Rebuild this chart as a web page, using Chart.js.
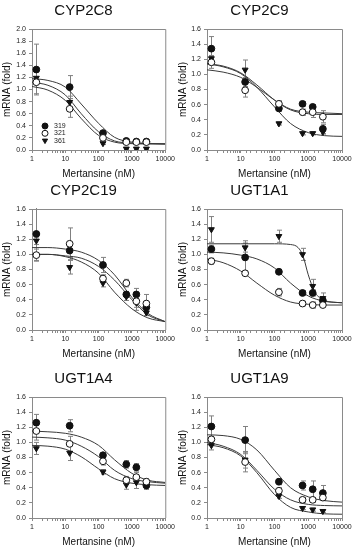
<!DOCTYPE html>
<html><head><meta charset="utf-8">
<script src="https://cdn.jsdelivr.net/npm/chart.js@4/dist/chart.umd.min.js"></script>
<style>
html,body{margin:0;padding:0;background:#fff;width:355px;height:550px;overflow:hidden}
.p{position:absolute}
</style></head><body>
<div id="wrap"></div>
<script>
// ---------- data ----------
const doses = [1.35, 13.5, 135, 677, 1355, 2710];           // nM
const fitDoses = [1, 3, 10, 30, 100, 300, 1000, 3000, 10000];
const fitDosesDense = [1, 10, 100, 300, 500, 700, 1000, 1500, 2000, 3000, 5000, 10000];
const seriesNames = ['319', '321', '361'];
const panelTitles = ['CYP2C8', 'CYP2C9', 'CYP2C19', 'UGT1A1', 'UGT1A4', 'UGT1A9'];
const yMaxes = [2.0, 1.6, 1.6, 1.6, 1.6, 1.6];
const xTickLabels = [1, 10, 100, 1000, 10000];

// CYP2C8
const cyp2c8_319 = [1.33, 1.04, 0.28, 0.15, 0.14, 0.14];
const cyp2c8_321 = [1.12, 0.68, 0.20, 0.13, 0.13, 0.13];
const cyp2c8_361 = [1.19, 0.79, 0.11, 0.02, 0.02, 0.02];
const cyp2c8_319_sd = [0.42, 0.19, 0.04, 0.02, 0.02, 0.02];
const cyp2c8_321_sd = [0.19, 0.14, 0.03, 0.02, 0.02, 0.02];
const cyp2c8_361_sd = [0.10, 0.10, 0.02, 0.01, 0.01, 0.01];
const cyp2c8_319_fit = [1.18, 1.15, 1.04, 0.76, 0.44, 0.21, 0.13, 0.11, 0.10];
const cyp2c8_321_fit = [1.12, 1.07, 0.91, 0.60, 0.30, 0.15, 0.115, 0.105, 0.10];
const cyp2c8_361_fit = [1.05, 0.99, 0.82, 0.52, 0.24, 0.13, 0.105, 0.10, 0.10];

// CYP2C9
const cyp2c9_319 = [1.34, 0.90, 0.55, 0.61, 0.57, 0.28];
const cyp2c9_321 = [1.16, 0.79, 0.61, 0.50, 0.50, 0.44];
const cyp2c9_361 = [1.21, 1.06, 0.35, 0.22, 0.22, 0.24];
const cyp2c9_319_sd = [0.16, 0.06, 0.04, 0.03, 0.03, 0.06];
const cyp2c9_321_sd = [0.08, 0.09, 0.04, 0.04, 0.07, 0.08];
const cyp2c9_361_sd = [0.04, 0.13, 0.02, 0.02, 0.02, 0.03];
const cyp2c9_319_fit = [1.14, 1.11, 1.02, 0.86, 0.66, 0.53, 0.48, 0.47, 0.47];
const cyp2c9_321_fit = [1.06, 1.03, 0.96, 0.83, 0.66, 0.54, 0.50, 0.49, 0.48];
const cyp2c9_361_fit = [1.14, 1.10, 1.01, 0.83, 0.57, 0.35, 0.23, 0.19, 0.18];

// CYP2C19
const cyp2c19_319 = [1.27, 1.05, 0.86, 0.47, 0.47, 0.30];
const cyp2c19_321 = [0.99, 1.14, 0.68, 0.62, 0.38, 0.35];
const cyp2c19_361 = [1.18, 0.83, 0.62, 0.44, 0.36, 0.23];
const cyp2c19_319_sd = [0.35, 0.09, 0.10, 0.04, 0.08, 0.07];
const cyp2c19_321_sd = [0.08, 0.21, 0.05, 0.05, 0.08, 0.12];
const cyp2c19_361_sd = [0.05, 0.09, 0.05, 0.05, 0.10, 0.04];
const cyp2c19_319_fit = [1.00, 1.00, 0.98, 0.95, 0.84, 0.66, 0.40, 0.20, 0.11];
const cyp2c19_321_fit = [1.09, 1.09, 1.07, 1.03, 0.92, 0.73, 0.43, 0.22, 0.11];
const cyp2c19_361_fit = [1.00, 1.00, 0.97, 0.90, 0.75, 0.50, 0.28, 0.16, 0.11];

// UGT1A1
const ugt1a1_319 = [1.07, 0.96, 0.77, 0.49, 0.49, 0.39];
const ugt1a1_321 = [0.91, 0.75, 0.50, 0.35, 0.33, 0.33];
const ugt1a1_361 = [1.33, 1.09, 1.24, 1.00, 0.58, 0.42];
const ugt1a1_319_sd = [0.05, 0.22, 0.03, 0.03, 0.04, 0.03];
const ugt1a1_321_sd = [0.04, 0.03, 0.05, 0.03, 0.04, 0.02];
const ugt1a1_361_sd = [0.17, 0.06, 0.08, 0.08, 0.09, 0.07];
const ugt1a1_319_fit = [1.03, 1.02, 0.99, 0.94, 0.82, 0.62, 0.45, 0.38, 0.36];
const ugt1a1_321_fit = [0.94, 0.89, 0.78, 0.62, 0.46, 0.37, 0.34, 0.33, 0.33];
const ugt1a1_361_fit = [1.14, 1.14, 1.14, 1.13, 1.09, 0.98, 0.73, 0.52, 0.44, 0.39, 0.37, 0.36]; // on fitDosesDense

// UGT1A4
const ugt1a4_319 = [1.26, 1.22, 0.83, 0.71, 0.67, 0.43];
const ugt1a4_321 = [1.15, 0.98, 0.75, 0.50, 0.54, 0.48];
const ugt1a4_361 = [0.92, 0.86, 0.61, 0.44, 0.47, 0.43];
const ugt1a4_319_sd = [0.11, 0.08, 0.03, 0.05, 0.05, 0.05];
const ugt1a4_321_sd = [0.12, 0.10, 0.05, 0.05, 0.06, 0.04];
const ugt1a4_361_sd = [0.08, 0.10, 0.03, 0.06, 0.08, 0.05];
const ugt1a4_319_fit = [1.15, 1.14, 1.12, 1.07, 0.96, 0.77, 0.59, 0.50, 0.47];
const ugt1a4_321_fit = [1.07, 1.06, 1.03, 0.95, 0.81, 0.63, 0.52, 0.48, 0.46];
const ugt1a4_361_fit = [0.96, 0.95, 0.91, 0.81, 0.65, 0.52, 0.46, 0.44, 0.43];

// UGT1A9
const ugt1a9_319 = [1.21, 1.03, 0.48, 0.43, 0.38, 0.33];
const ugt1a9_321 = [1.04, 0.74, 0.36, 0.24, 0.24, 0.27];
const ugt1a9_361 = [0.96, 0.77, 0.29, 0.13, 0.11, 0.09];
const ugt1a9_319_sd = [0.14, 0.18, 0.04, 0.06, 0.11, 0.10];
const ugt1a9_321_sd = [0.04, 0.13, 0.04, 0.03, 0.03, 0.03];
const ugt1a9_361_sd = [0.06, 0.11, 0.03, 0.02, 0.02, 0.02];
const ugt1a9_319_fit = [1.10, 1.09, 1.04, 0.90, 0.63, 0.40, 0.28, 0.23, 0.21];
const ugt1a9_321_fit = [1.00, 0.95, 0.84, 0.63, 0.38, 0.24, 0.18, 0.165, 0.16];
const ugt1a9_361_fit = [0.97, 0.93, 0.82, 0.60, 0.31, 0.14, 0.08, 0.055, 0.05];

// ---------- assemble ----------
const panelData = [
  {means:[cyp2c8_319,cyp2c8_321,cyp2c8_361], sds:[cyp2c8_319_sd,cyp2c8_321_sd,cyp2c8_361_sd], fits:[cyp2c8_319_fit,cyp2c8_321_fit,cyp2c8_361_fit], fitX:[fitDoses,fitDoses,fitDoses]},
  {means:[cyp2c9_319,cyp2c9_321,cyp2c9_361], sds:[cyp2c9_319_sd,cyp2c9_321_sd,cyp2c9_361_sd], fits:[cyp2c9_319_fit,cyp2c9_321_fit,cyp2c9_361_fit], fitX:[fitDoses,fitDoses,fitDoses]},
  {means:[cyp2c19_319,cyp2c19_321,cyp2c19_361], sds:[cyp2c19_319_sd,cyp2c19_321_sd,cyp2c19_361_sd], fits:[cyp2c19_319_fit,cyp2c19_321_fit,cyp2c19_361_fit], fitX:[fitDoses,fitDoses,fitDoses]},
  {means:[ugt1a1_319,ugt1a1_321,ugt1a1_361], sds:[ugt1a1_319_sd,ugt1a1_321_sd,ugt1a1_361_sd], fits:[ugt1a1_319_fit,ugt1a1_321_fit,ugt1a1_361_fit], fitX:[fitDoses,fitDoses,fitDosesDense]},
  {means:[ugt1a4_319,ugt1a4_321,ugt1a4_361], sds:[ugt1a4_319_sd,ugt1a4_321_sd,ugt1a4_361_sd], fits:[ugt1a4_319_fit,ugt1a4_321_fit,ugt1a4_361_fit], fitX:[fitDoses,fitDoses,fitDoses]},
  {means:[ugt1a9_319,ugt1a9_321,ugt1a9_361], sds:[ugt1a9_319_sd,ugt1a9_321_sd,ugt1a9_361_sd], fits:[ugt1a9_319_fit,ugt1a9_321_fit,ugt1a9_361_fit], fitX:[fitDoses,fitDoses,fitDoses]}
];

// layout (positions / styles kept separate from data)
const FONT = '"Liberation Sans", Arial, sans-serif';
const boxes = [
  {left:0,   top:0,   w:177, h:182, yW:32, padR:10, yTitlePad:1},
  {left:177, top:0,   w:178, h:182, yW:30, padR:13, yTitlePad:0},
  {left:0,   top:180, w:177, h:182, yW:32, padR:10, yTitlePad:1},
  {left:177, top:180, w:178, h:182, yW:30, padR:13, yTitlePad:0},
  {left:0,   top:368, w:177, h:182, yW:32, padR:10, yTitlePad:1},
  {left:177, top:368, w:178, h:182, yW:30, padR:13, yTitlePad:0}
];
const styles = [
  {pointStyle:'circle',   rotation:0,   bg:'#111', border:'#111'},
  {pointStyle:'circle',   rotation:0,   bg:'#fff', border:'#111'},
  {pointStyle:'triangle', rotation:180, bg:'#111', border:'#111'}
];
const drawOrder = [1, 0, 2]; // lower = on top

const errorBars = {
  id: 'errorBars',
  beforeDatasetsDraw(chart) {
    const {ctx, chartArea: a, scales: {x, y}} = chart;
    ctx.save();
    ctx.beginPath(); ctx.rect(a.left, a.top - 1, a.width, a.height + 2); ctx.clip();
    ctx.strokeStyle = '#808080'; ctx.lineWidth = 1;
    chart.data.datasets.forEach(ds => {
      if (!ds.errors) return;
      ds.data.forEach((p, i) => {
        const e = ds.errors[i];
        const px = Math.round(x.getPixelForValue(p.x)) + 0.5;
        const yt = y.getPixelForValue(p.y + e), yb = y.getPixelForValue(p.y - e);
        ctx.beginPath();
        ctx.moveTo(px, yt); ctx.lineTo(px, yb);
        ctx.moveTo(px - 2.5, yt); ctx.lineTo(px + 2.5, yt);
        ctx.moveTo(px - 2.5, yb); ctx.lineTo(px + 2.5, yb);
        ctx.stroke();
      });
    });
    ctx.restore();
  }
};
const frame = {
  id: 'frame',
  afterDraw(chart) {
    const {ctx, chartArea: a} = chart;
    ctx.save();
    ctx.strokeStyle = '#8a8a8a'; ctx.lineWidth = 1;
    ctx.beginPath();
    ctx.moveTo(a.left, a.top + 0.5); ctx.lineTo(a.right + 0.5, a.top + 0.5); ctx.lineTo(a.right + 0.5, a.bottom);
    ctx.stroke();
    ctx.restore();
  }
};
const inLegend = {
  id: 'inLegend',
  afterDatasetsDraw(chart, args, opts) {
    if (!opts.show) return;
    const {ctx, chartArea: a} = chart;
    ctx.save();
    chart.data.datasets.forEach(ds => {
      if (ds.legendRow === undefined) return;
      const yy = a.bottom - 24 + ds.legendRow * 7.3;
      ctx.fillStyle = ds.backgroundColor; ctx.strokeStyle = ds.borderColor; ctx.lineWidth = 1;
      Chart.helpers.drawPoint(ctx, {pointStyle: ds.pointStyle, rotation: ds.pointRotation, radius: 3, borderWidth: 1}, a.left + 13, yy);
      ctx.fillStyle = '#222';
      ctx.font = '7px ' + FONT; ctx.textBaseline = 'middle'; ctx.textAlign = 'left';
      ctx.fillText(ds.label, a.left + 22, yy);
    });
    ctx.restore();
  }
};

const wrap = document.getElementById('wrap');
panelTitles.forEach((title, k) => {
  const b = boxes[k], d = panelData[k];
  const div = document.createElement('div');
  div.className = 'p';
  div.style.cssText = `left:${b.left}px;top:${b.top}px;width:${b.w}px;height:${b.h}px`;
  const cv = document.createElement('canvas');
  div.appendChild(cv); wrap.appendChild(div);

  const datasets = [];
  seriesNames.forEach((name, s) => {
    const st = styles[s];
    datasets.push({
      label: name,
      data: doses.map((x, i) => ({x, y: d.means[s][i]})),
      errors: d.sds[s],
      legendRow: s,
      showLine: false,
      pointStyle: st.pointStyle, pointRotation: st.rotation,
      pointRadius: 3.4, pointHoverRadius: 3.4, pointBorderWidth: 1,
      backgroundColor: st.bg, borderColor: st.border,
      order: drawOrder[s]
    });
  });
  seriesNames.forEach((name, s) => {
    datasets.push({
      label: name + ' fit',
      data: d.fitX[s].map((x, i) => ({x, y: d.fits[s][i]})),
      showLine: true, pointRadius: 0, pointHoverRadius: 0,
      borderColor: '#3a3a3a', borderWidth: 1, backgroundColor: 'transparent',
      cubicInterpolationMode: 'monotone',
      order: 10
    });
  });

  new Chart(cv, {
    type: 'scatter',
    data: {datasets},
    plugins: [errorBars, frame, inLegend],
    options: {
      responsive: true, maintainAspectRatio: false, animation: false,
      layout: {padding: {left: 0, right: b.padR, top: 0, bottom: 0}},
      events: [],
      plugins: {
        legend: {display: false}, tooltip: {enabled: false},
        inLegend: {show: k === 0},
        title: {display: true, text: title, color: '#111',
          font: {family: FONT, size: 15, weight: 'normal'}, padding: {top: 2, bottom: 9}}
      },
      scales: {
        x: {
          type: 'logarithmic', min: 1, max: 10000,
          afterFit: sc => { sc.height = 32; },
          grid: {display: true, drawOnChartArea: false, drawTicks: true, tickLength: 3, color: '#8a8a8a'},
          border: {display: true, color: '#8a8a8a'},
          ticks: {autoSkip: false, maxRotation: 0, padding: 2, color: '#222',
            font: {family: FONT, size: 7},
            callback: v => xTickLabels.includes(v) ? String(v) : ''},
          title: {display: true, text: 'Mertansine (nM)', color: '#111',
            font: {family: FONT, size: 10}, padding: {top: 0, bottom: 2}}
        },
        y: {
          min: 0, max: yMaxes[k],
          afterFit: sc => { sc.width = b.yW; },
          grid: {display: true, drawOnChartArea: false, drawTicks: true, tickLength: 3, color: '#8a8a8a'},
          border: {display: true, color: '#8a8a8a'},
          ticks: {stepSize: 0.2, padding: 3, color: '#222', font: {family: FONT, size: 7},
            callback: v => Number(v).toFixed(1)},
          title: {display: true, text: 'mRNA (fold)', color: '#111',
            font: {family: FONT, size: 10}, padding: {top: b.yTitlePad, bottom: 0}}
        }
      }
    }
  });
});
</script>
</body></html>
